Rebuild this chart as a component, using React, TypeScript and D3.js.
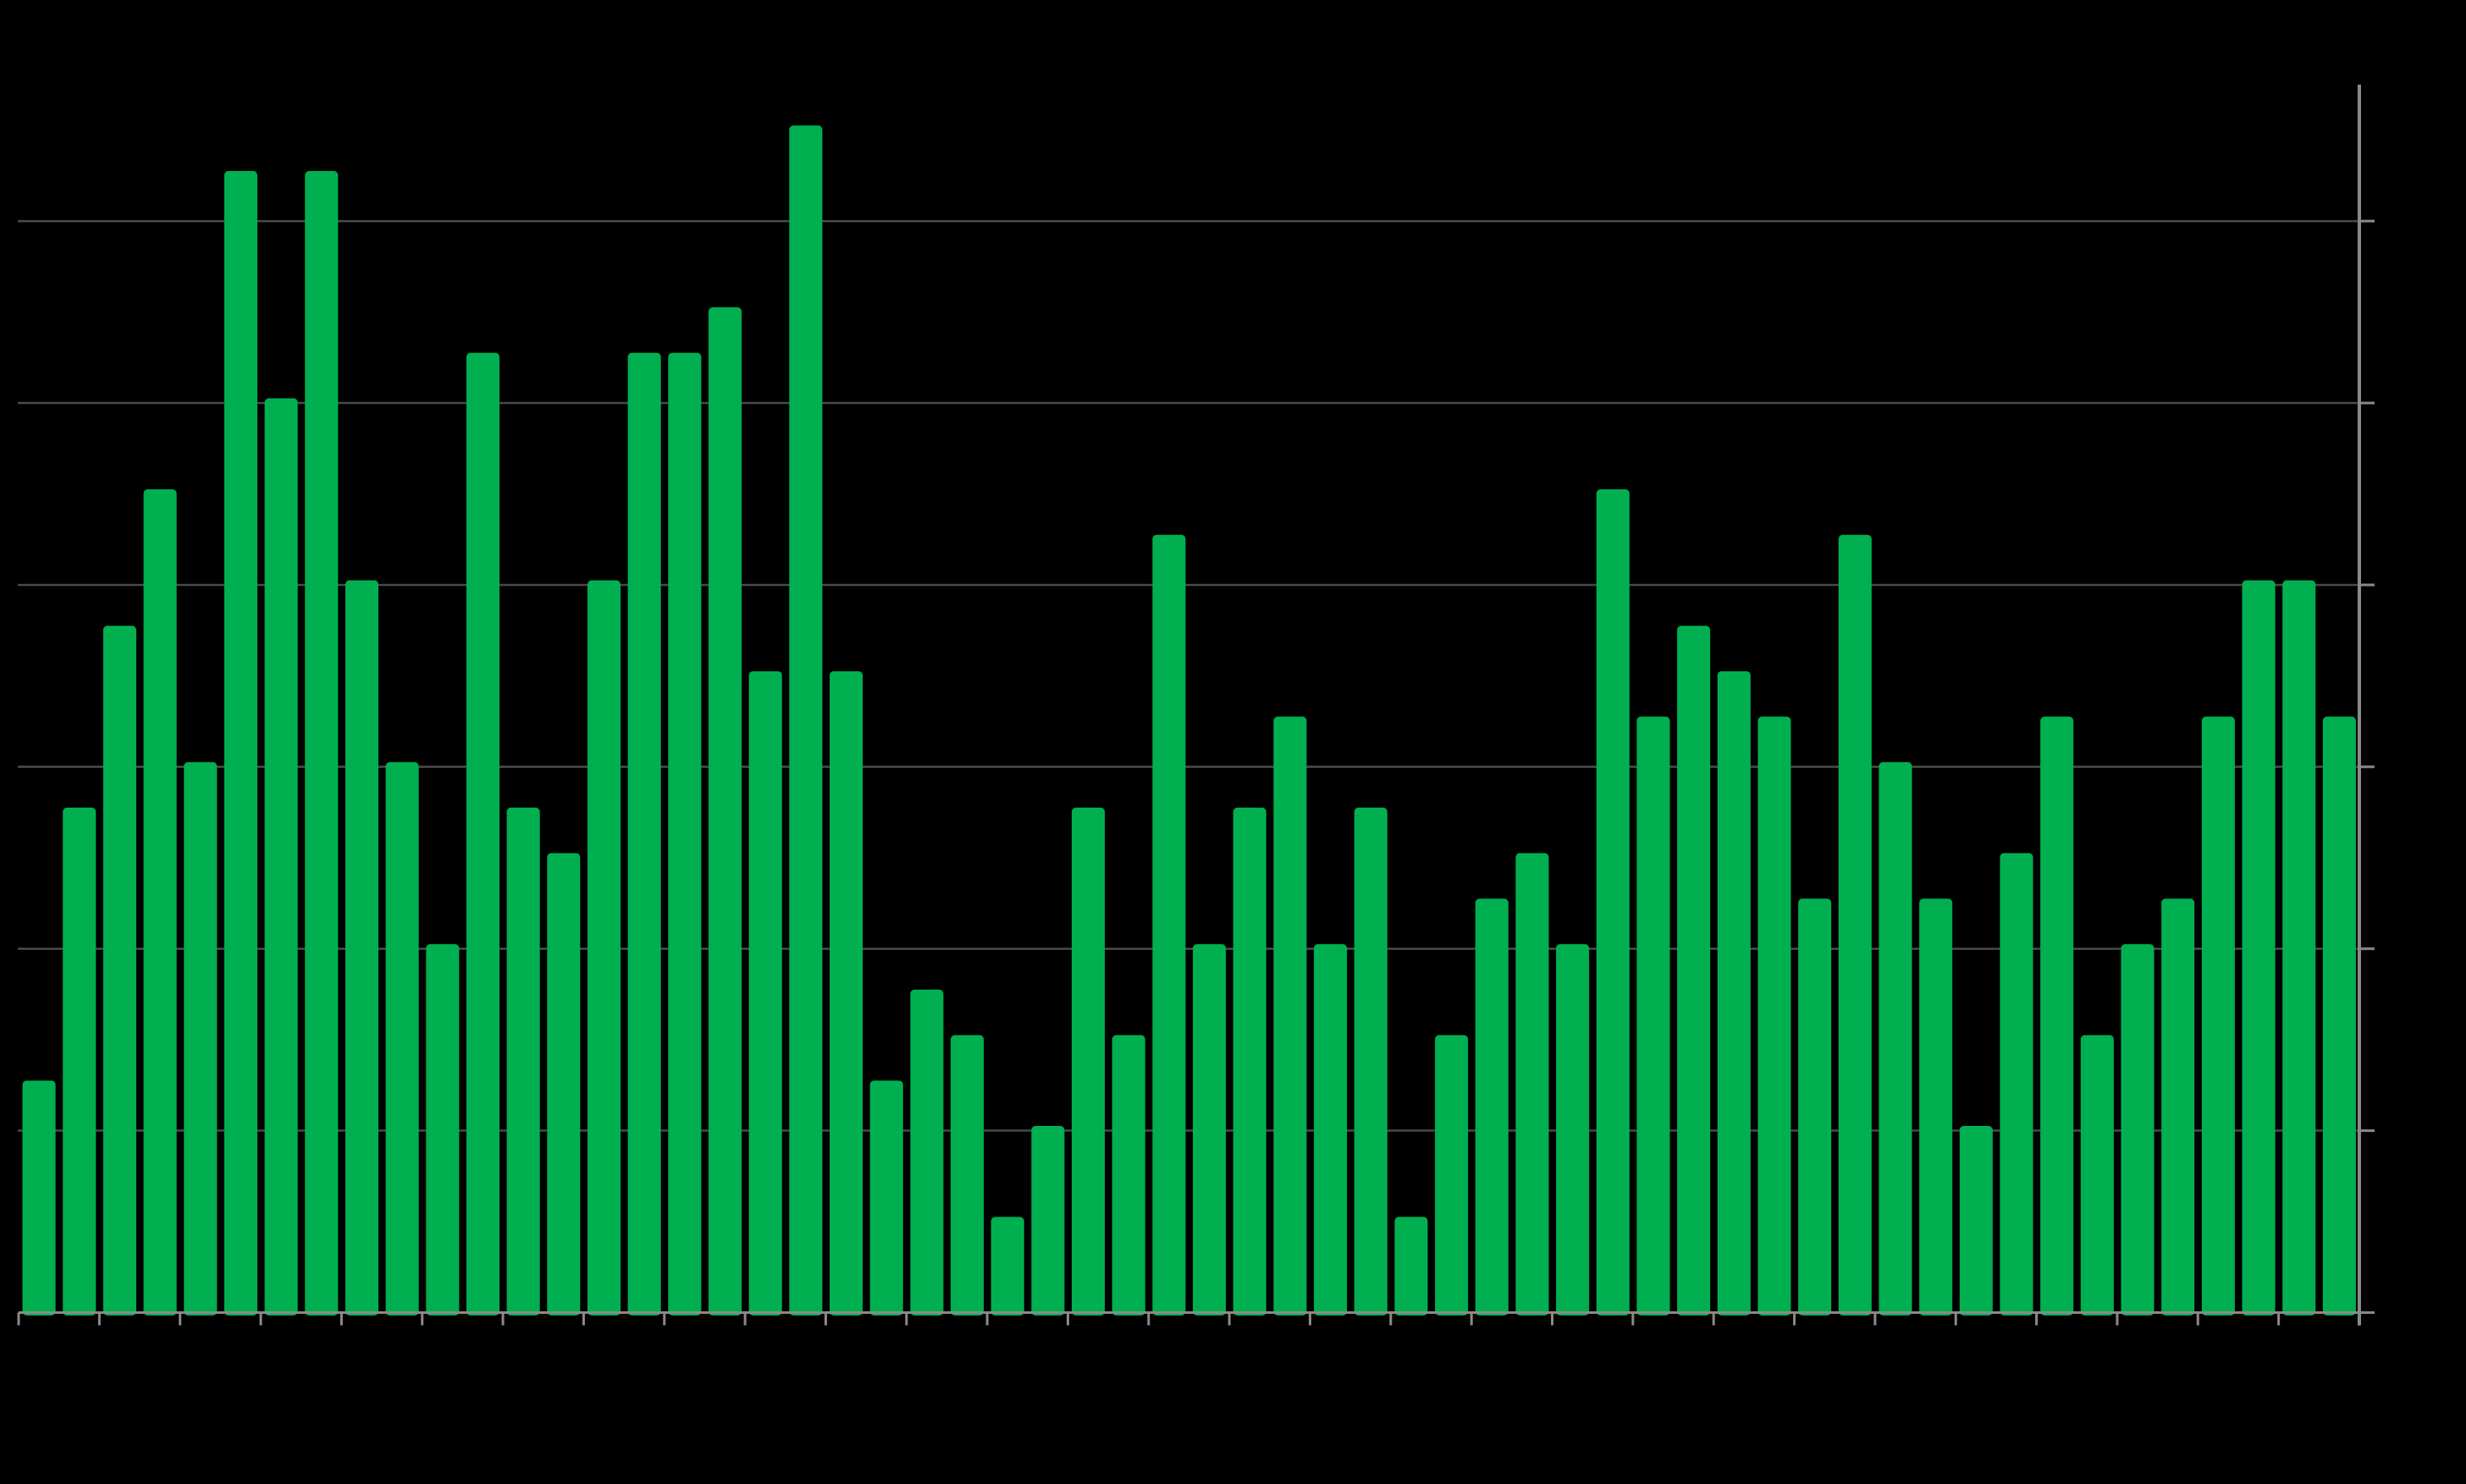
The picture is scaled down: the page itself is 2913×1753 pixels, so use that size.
import React from "react";
import * as d3 from "d3";

const values: number[] = [
  5, 11, 15, 18, 12, 25, 20, 25, 16, 12,
  8, 21, 11, 10, 16, 21, 21, 22, 14, 26,
  14, 5, 7, 6, 2, 4, 11, 6, 17, 8,
  11, 13, 8, 11, 2, 6, 9, 10, 8, 18,
  13, 15, 14, 13, 9, 17, 12, 9, 4, 10,
  13, 6, 8, 9, 13, 16, 16, 13,
];
const categories: number[] = values.map((_, i) => i);
const yTicks: number[] = [4, 8, 12, 16, 20, 24];
const yDomainMax = 27;

const W = 2913;
const H = 1753;
const left = 22;
const right = 2787;
const top = 100;
const baseline = 1550.5;

export default function App() {
  const x = d3
    .scaleBand<number>()
    .domain(categories)
    .range([left, right])
    .paddingInner(0.17)
    .paddingOuter(0.085);
  const xEdge = d3.scaleLinear().domain([0, categories.length]).range([left, right]);
  const y = d3.scaleLinear().domain([0, yDomainMax]).range([baseline, top]);
  const xTickIdx = d3.range(0, categories.length + 1, 2);

  return (
    <div style={{ position: "fixed", left: 0, top: 0, width: W, height: H, background: "#000" }}>
      <svg width={W} height={H} style={{ display: "block", background: "#000" }}>
        <rect x={0} y={0} width={W} height={H} fill="#000" />
        {/* gridlines */}
        {yTicks.map((t) => (
          <line
            key={"g" + t}
            x1={left - 1}
            x2={right}
            y1={y(t)}
            y2={y(t)}
            stroke="#4a4a4a"
            strokeWidth={2.5}
          />
        ))}
        {/* bars */}
        {values.map((v, i) => (
          <rect
            key={"b" + i}
            x={x(i)! + 0.5}
            y={y(v) - 5.5}
            width={x.bandwidth() - 0.5}
            height={baseline + 3.5 - (y(v) - 5.5)}
            rx={5}
            ry={5}
            fill="#00b050"
          />
        ))}
        {/* bottom axis */}
        <line x1={left} x2={right + 18} y1={baseline} y2={baseline} stroke="#8a8a8a" strokeWidth={3} />
        {xTickIdx.map((i) => (
          <line
            key={"xt" + i}
            x1={xEdge(i)}
            x2={xEdge(i)}
            y1={baseline}
            y2={baseline + 15}
            stroke="#8a8a8a"
            strokeWidth={3}
          />
        ))}
        {/* right axis */}
        <line x1={right} x2={right} y1={top} y2={baseline + 15} stroke="#8a8a8a" strokeWidth={4} />
        {yTicks.map((t) => (
          <line
            key={"yt" + t}
            x1={right}
            x2={right + 18}
            y1={y(t)}
            y2={y(t)}
            stroke="#8a8a8a"
            strokeWidth={3}
          />
        ))}
      </svg>
    </div>
  );
}
